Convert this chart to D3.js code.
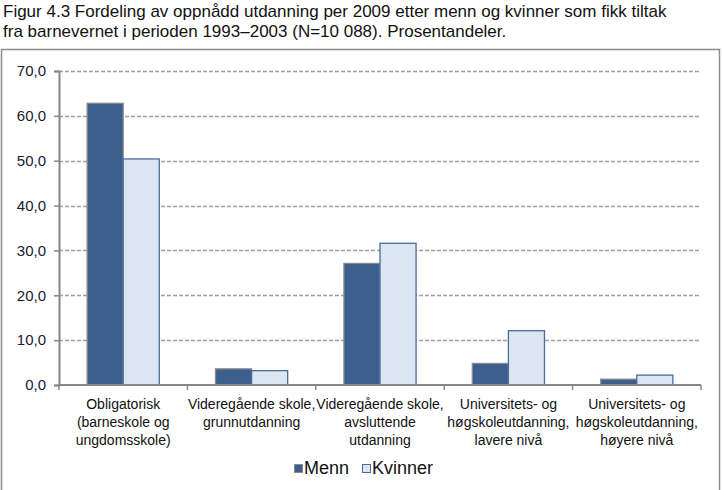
<!doctype html>
<html>
<head>
<meta charset="UTF-8">
<title>Figur 4.3</title>
<script src="https://d3js.org/d3.v7.min.js"></script>
<style>
  body { margin: 0; background: #fff; font-family: "Liberation Sans", Arial, sans-serif; }
  svg text { font-family: "Liberation Sans", Arial, sans-serif; }
</style>
</head>
<body>
<svg id="chart" width="723" height="490"></svg>
<script>
// data
var categories = [
  ["Obligatorisk", "(barneskole og", "ungdomsskole)"],
  ["Videregående skole,", "grunnutdanning"],
  ["Videregående skole,", "avsluttende", "utdanning"],
  ["Universitets- og", "høgskoleutdanning,", "lavere nivå"],
  ["Universitets- og", "høgskoleutdanning,", "høyere nivå"]
];
var series = ["Menn", "Kvinner"];
var menn    = [62.8, 3.6, 27.1, 4.8, 1.3];
var kvinner = [50.4, 3.2, 31.6, 12.1, 2.2];
var yTicks  = [0, 10, 20, 30, 40, 50, 60, 70];

var fills   = {Menn: "#3c5f8d", Kvinner: "#dce6f2"};
var strokes = {Menn: "#8a8a8a", Kvinner: "#4a6b9c"};

var svg = d3.select("#chart");

// title
svg.append("text").attr("x", 3).attr("y", 17)
  .attr("font-size", 17).attr("fill", "#111")
  .text("Figur 4.3 Fordeling av oppnådd utdanning per 2009 etter menn og kvinner som fikk tiltak");
svg.append("text").attr("x", 3).attr("y", 37)
  .attr("font-size", 17).attr("fill", "#111")
  .text("fra barnevernet i perioden 1993–2003 (N=10 088). Prosentandeler.");

// outer frame
svg.append("rect").attr("x", 1.5).attr("y", 49.5).attr("width", 718).attr("height", 445)
  .attr("fill", "none").attr("stroke", "#8c8c8c").attr("stroke-width", 1.5);

var pL = 59, pR = 701, pT = 71, pB = 385;

var x = d3.scaleBand().domain(d3.range(categories.length)).range([pL, pR]);
var x1 = d3.scaleBand().domain(series).range([0, x.bandwidth()]).paddingInner(0).paddingOuter(0.78);
var y = d3.scaleLinear().domain([0, 70]).range([pB, pT]);

// gridlines
svg.append("g").selectAll("line").data(yTicks.slice(1)).enter().append("line")
  .attr("x1", pL).attr("x2", pR)
  .attr("y1", function(d){ return Math.round(y(d)) + 0.5; })
  .attr("y2", function(d){ return Math.round(y(d)) + 0.5; })
  .attr("stroke", "#a0a0a0").attr("stroke-width", 1.3).attr("stroke-dasharray", "4,2");

// bars
var rows = categories.map(function(c, i){ return {i: i, Menn: menn[i], Kvinner: kvinner[i]}; });
var groups = svg.append("g").selectAll("g").data(rows).enter().append("g")
  .attr("transform", function(d){ return "translate(" + x(d.i) + ",0)"; });
groups.selectAll("rect").data(function(d){ return series.map(function(s){ return {s: s, v: d[s]}; }); })
  .enter().append("rect")
  .attr("x", function(d){ return x1(d.s); })
  .attr("y", function(d){ return y(d.v); })
  .attr("width", x1.bandwidth())
  .attr("height", function(d){ return pB - y(d.v); })
  .attr("fill", function(d){ return fills[d.s]; })
  .attr("stroke", function(d){ return strokes[d.s]; })
  .attr("stroke-width", 1.3);

// y axis
var yAxis = d3.axisLeft(y).tickValues(yTicks).tickSize(5).tickPadding(8)
  .tickFormat(function(d){ return d3.format(".1f")(d).replace(".", ","); });
var gy = svg.append("g").attr("transform", "translate(" + pL + ",0)").call(yAxis);
gy.select(".domain").attr("stroke", "#868686").attr("stroke-width", 2);
gy.selectAll(".tick line").attr("stroke", "#868686").attr("stroke-width", 1.5);
gy.selectAll(".tick text").attr("font-size", 15).attr("fill", "#1a1a2e")
  .attr("font-family", "Liberation Sans, Arial, sans-serif");

// x axis
var xTickPos = d3.range(categories.length + 1).map(function(i){ return pL + i * x.bandwidth(); });
svg.append("line").attr("x1", pL).attr("x2", pR).attr("y1", pB).attr("y2", pB)
  .attr("stroke", "#868686").attr("stroke-width", 2);
svg.append("g").selectAll("line").data(xTickPos).enter().append("line")
  .attr("x1", function(d){ return d; }).attr("x2", function(d){ return d; })
  .attr("y1", pB).attr("y2", pB + 5)
  .attr("stroke", "#868686").attr("stroke-width", 1.5);

// category labels
var lab = svg.append("g").selectAll("text").data(categories).enter().append("text")
  .attr("x", function(d, i){ return x(i) + x.bandwidth() / 2; })
  .attr("y", 409)
  .attr("text-anchor", "middle").attr("font-size", 14).attr("fill", "#111");
lab.selectAll("tspan").data(function(d){ return d; }).enter().append("tspan")
  .attr("x", function(){ return this.parentNode.getAttribute("x"); })
  .attr("dy", function(d, i){ return i === 0 ? 0 : 18; })
  .text(function(d){ return d; });

// legend
var legX = [294, 362];
var leg = svg.append("g").selectAll("g").data(series).enter().append("g")
  .attr("transform", function(d, i){ return "translate(" + legX[i] + ",464)"; });
leg.append("rect").attr("x", 0.5).attr("y", 0.5).attr("width", 8).attr("height", 8)
  .attr("fill", function(d){ return fills[d]; })
  .attr("stroke", function(d){ return strokes[d]; });
leg.append("text").attr("x", 10).attr("y", 9.5).attr("font-size", 18).attr("fill", "#111")
  .text(function(d){ return d; });
</script>
</body>
</html>
